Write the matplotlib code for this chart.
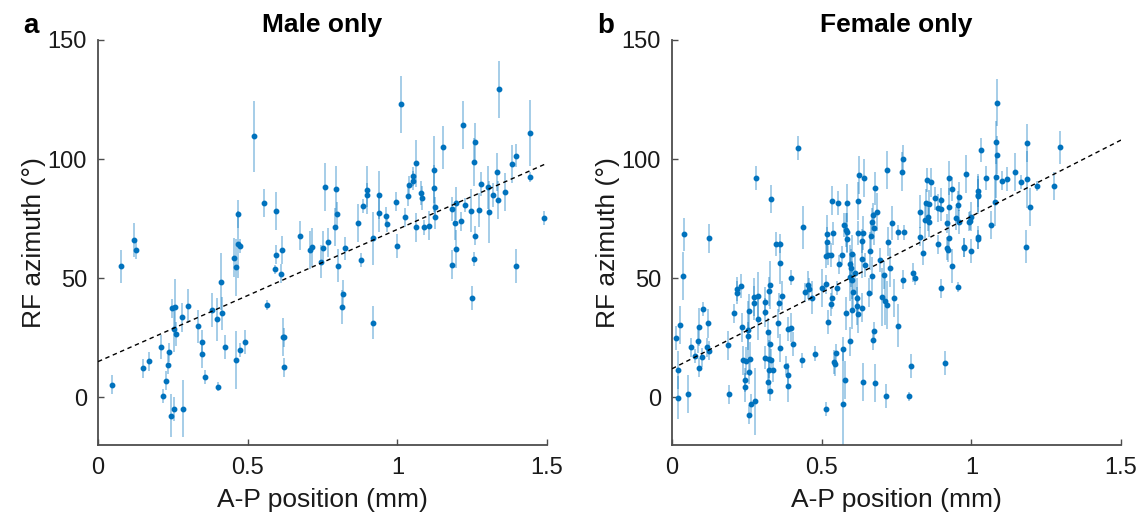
import matplotlib
matplotlib.use("Agg")
import matplotlib.pyplot as plt
import numpy as np

# ---------------- data ----------------
male_x = [0.048, 0.076, 0.121, 0.127, 0.149, 0.169, 0.21, 0.236, 0.235, 0.227,
          0.218, 0.245, 0.254, 0.285, 0.246, 0.256, 0.254, 0.261, 0.281, 0.301,
          0.333, 0.349, 0.346, 0.356, 0.382, 0.398, 0.414, 0.411, 0.401, 0.423,
          0.46, 0.473, 0.49, 0.455, 0.462, 0.467, 0.473, 0.565, 0.59, 0.595,
          0.612, 0.616, 0.619, 0.622, 0.622, 0.709, 0.716, 0.745, 0.751, 0.522,
          0.555, 0.594, 0.467, 0.674, 0.76, 0.796, 0.797, 0.791, 0.767, 0.9,
          0.9, 0.884, 0.94, 0.94, 0.869, 0.962, 0.965, 0.919, 0.995, 1.025,
          1.061, 1.09, 1.106, 1.183, 1.193, 1.196, 1.213, 1.227, 1.247, 1.272,
          1.258, 1.28, 1.302, 1.305, 1.321, 1.333, 1.337, 1.359, 1.491, 0.998,
          1.197, 0.824, 0.803, 0.819, 0.815, 0.878, 0.918, 1.184, 1.248, 1.255,
          1.397, 1.012, 1.339, 1.22, 1.258, 1.442, 1.153, 1.256, 1.396, 1.383,
          1.442, 1.062, 1.052, 1.052, 1.038, 1.035, 1.079, 1.084, 1.122, 1.122,
          1.126, 1.125]
male_y = [5.3, 55, 66, 62, 12.3, 15.1, 21.3, 18.9, 13.7, 6.9,
          0.5, -7.7, -4.9, -4.7, 37.4, 37.8, 28.9, 26.6, 33.6, 38.4,
          29.8, 23.1, 18.2, 8.4, 36.7, 32.8, 35.3, 48.6, 4.5, 21.1,
          15.7, 19.9, 23.1, 58.7, 54.6, 64.2, 63.6, 38.8, 53.7, 59.8,
          51.8, 61.9, 25.2, 25.2, 12.7, 61.8, 63, 56.9, 62.9, 109.5,
          81.5, 78.2, 76.9, 67.9, 88.4, 87.3, 77, 71.6, 65.1, 87.1,
          85, 80.4, 85, 77.4, 73.1, 76, 72.6, 66.7, 82.1, 75.5,
          71.3, 71.3, 72.1, 78.9, 73, 81.4, 74, 80.8, 78.3, 78.6,
          67.9, 89.5, 88.1, 77.9, 85, 94.5, 82.8, 86.3, 75.2, 63.6,
          62.1, 62.5, 55.3, 43.4, 37.9, 57.7, 31.4, 55.7, 41.7, 58,
          55.2, 123, 129.3, 114.3, 107.3, 111, 105, 98.9, 101.5, 97.8,
          92.6, 98.2, 92.9, 91, 89.1, 84.5, 85.7, 83.7, 95.5, 87.7,
          80, 75.5]
male_err = [4, 7, 7, 4, 4, 4, 5, 4, 4, 4,
            3, 9, 5, 12, 4, 12, 10, 5, 6, 7,
            7, 5, 6, 3, 7, 9, 7, 12, 2, 5,
            12, 3, 5, 8, 12, 14, 3, 2, 2, 4,
            4, 6, 8, 4, 4, 8, 8, 7, 7, 15,
            6, 8, 6, 6, 10, 10, 5, 8, 6, 10,
            5, 3, 10, 8, 8, 4, 3, 11, 4, 4,
            6, 3, 6, 5, 7, 7, 4, 3, 9, 7,
            4, 5, 9, 13, 5, 8, 8, 8, 3, 5,
            8, 5, 7, 6, 7, 3, 7, 6, 5, 3,
            7, 12, 12, 10, 8, 14, 9, 10, 5, 8,
            2, 10, 4, 4, 4, 4, 5, 5, 14, 10,
            4, 5]

female_x = [0.039, 0.123, 0.281, 0.331, 0.421, 0.438, 0.346, 0.36, 0.517, 0.517,
            0.719, 0.772, 0.769, 0.624, 0.642, 0.678, 0.534, 0.554, 0.586, 0.62,
            0.67, 0.686, 0.676, 0.669, 0.576, 0.582, 0.585, 0.585, 0.539, 0.621,
            0.637, 0.634, 0.665, 0.735, 0.754, 0.775, 0.722, 0.828, 0.83, 0.848,
            0.851, 0.864, 0.844, 0.856, 0.859, 0.859, 0.88, 0.888, 0.898, 0.898,
            0.926, 0.936, 0.926, 0.92, 0.949, 0.956, 0.959, 0.959, 0.981, 0.991,
            0.997, 1.023, 1.023, 0.926, 0.89, 0.976, 0.919, 1.085, 1.083, 1.085,
            1.084, 1.033, 1.05, 1.104, 1.119, 1.146, 1.165, 1.185, 1.187, 1.196,
            1.218, 1.277, 1.295, 1.184, 1.022, 1.021, 1.078, 1.066, 0.999, 1.023,
            0.999, 0.037, 0.026, 0.012, 0.021, 0.02, 0.054, 0.064, 0.076, 0.087,
            0.09, 0.089, 0.1, 0.102, 0.117, 0.121, 0.125, 0.186, 0.191, 0.208,
            0.217, 0.216, 0.229, 0.233, 0.238, 0.247, 0.243, 0.243, 0.254, 0.256,
            0.254, 0.261, 0.256, 0.264, 0.257, 0.276, 0.273, 0.275, 0.288, 0.287,
            0.312, 0.31, 0.324, 0.328, 0.322, 0.31, 0.327, 0.323, 0.332, 0.338,
            0.323, 0.321, 0.327, 0.356, 0.362, 0.368, 0.354, 0.362, 0.38, 0.389,
            0.389, 0.388, 0.397, 0.403, 0.397, 0.433, 0.443, 0.453, 0.458, 0.469,
            0.477, 0.502, 0.521, 0.515, 0.516, 0.521, 0.531, 0.515, 0.534, 0.53,
            0.552, 0.558, 0.567, 0.581, 0.596, 0.57, 0.549, 0.54, 0.544, 0.577,
            0.57, 0.596, 0.597, 0.601, 0.594, 0.603, 0.612, 0.601, 0.606, 0.617,
            0.617, 0.622, 0.635, 0.634, 0.645, 0.657, 0.663, 0.668, 0.639, 0.678,
            0.671, 0.676, 0.694, 0.707, 0.702, 0.711, 0.717, 0.728, 0.741, 0.754,
            0.714, 0.772, 0.806, 0.811, 0.8, 0.793, 0.839, 0.898, 0.913, 0.922,
            0.934, 0.957, 0.976]
female_y = [68.4, 66.8, 92.1, 83.2, 104.8, 71.3, 64.4, 64.4, 68.5, 65.3,
            95.4, 100, 94.8, 93.3, 91.9, 87.7, 82.6, 81.6, 81.6, 82.6,
            76.5, 77.9, 70.9, 73.4, 72.3, 70.2, 69.2, 66.4, 68.8, 69,
            69, 65.5, 67.9, 73.2, 69.2, 69.2, 65.3, 67.5, 77.9, 81.5,
            91.2, 90.3, 74.4, 75.8, 73.4, 81, 83.5, 79.5, 79.1, 82.8,
            92.1, 87.3, 80, 73, 75.1, 80.7, 84.3, 73.7, 93.7, 73.7,
            74.2, 84.9, 66.3, 66.8, 64.2, 63, 62.5, 123.7, 107, 101.8,
            92.7, 103.7, 92.1, 91, 91.6, 94.5, 90.5, 106.9, 91.6, 80,
            88.7, 88.7, 105, 63.2, 86.7, 84.7, 82.1, 72.4, 75.9, 67.1,
            61.5, 51, 30.5, 24.9, 11.3, -0.1, 1.5, 21.1, 17.4, 23.5,
            29.5, 12.5, 16.9, 37.1, 21.1, 31, 19.5, 21.8, 1.3, 35.2,
            45.5, 44, 46.8, 29.4, 15.5, 15.3, 7.4, 4.2, 28.4, 36.3,
            25.8, 16.1, 10.6, -2.8, -7.3, -1.6, 42.3, 39.6, 42.7, 32.9,
            40.2, 35.7, 44.5, 47.1, 27.4, 16.7, 22.3, 16, 15.5, 11.6,
            11.3, 6.6, 2.6, 39.8, 56.6, 42.7, 31, 20.7, 13.3, 9.4,
            4.9, 28.7, 29.3, 22.4, 50.3, 15.5, 44.1, 47.1, 45.3, 41.9,
            18.4, 45.9, 31.6, -5, 59.4, 59.7, 59.7, 47.5, 41.9, 39,
            45.9, 55.9, 59.7, 35.3, 23.5, 20.3, 18.5, 14.8, 13.9, 7.3,
            -2.7, 56, 54.2, 60.1, 50.5, 49.4, 52, 36.6, 44.3, 41.9,
            38.4, 34.9, 37.7, 58, 55.5, 44, 61.3, 51.1, 6.4, 6,
            23.9, 27.7, 57.6, 51.3, 42.1, 40.5, 38.7, 54.5, 41.7, 30,
            0.4, 49.4, 52.4, 50.1, 13.3, 0.4, 60.5, 45.7, 14.4, 61.8,
            55.2, 46.3, 62.9]
female_err = [7, 6, 5, 6, 5, 9, 5, 4, 8, 6,
              8, 6, 8, 8, 8, 7, 6, 5, 8, 8,
              5, 8, 7, 6, 5, 7, 8, 6, 5, 5,
              7, 5, 6, 7, 3, 3, 6, 4, 7, 6,
              5, 6, 8, 6, 6, 6, 5, 6, 5, 5,
              7, 5, 8, 4, 5, 6, 6, 5, 8, 4,
              4, 8, 4, 5, 4, 4, 5, 10, 9, 8,
              9, 5, 5, 4, 5, 8, 3, 8, 12, 8,
              2, 6, 7, 7, 7, 7, 10, 6, 6, 5,
              5, 10, 8, 5, 8, 9, 8, 4, 3, 5,
              8, 4, 4, 3, 4, 6, 4, 6, 4, 4,
              5, 5, 5, 6, 6, 6, 5, 6, 12, 7,
              6, 7, 5, 4, 4, 14, 8, 7, 10, 9,
              6, 6, 6, 10, 6, 5, 6, 8, 5, 5,
              5, 5, 4, 4, 9, 6, 6, 6, 4, 5,
              7, 5, 6, 5, 3, 3, 4, 6, 5, 7,
              3, 8, 5, 3, 5, 4, 5, 4, 5, 5,
              3, 4, 4, 7, 6, 5, 4, 5, 5, 8,
              22, 8, 8, 8, 10, 8, 8, 8, 8, 8,
              8, 8, 6, 8, 5, 6, 8, 8, 8, 8,
              4, 4, 5, 6, 12, 10, 10, 8, 8, 9,
              5, 4, 4, 3, 5, 2, 5, 4, 5, 5,
              7, 2, 4]

# regression lines: (intercept, slope)
male_fit = (15.0, 55.5)
female_fit = (12.0, 64.0)

panel_letters = ["a", "b"]
titles = ["Male only", "Female only"]
xticks = [0, 0.5, 1, 1.5]
xticklabels = ["0", "0.5", "1", "1.5"]
yticks = [0, 50, 100, 150]
yticklabels = ["0", "50", "100", "150"]

# ---------------- plotting ----------------
plt.rcParams['font.family'] = ['Liberation Sans', 'DejaVu Sans']

W, H = 1144, 521
fig = plt.figure(figsize=(W / 100, H / 100), dpi=100)

blue = '#0072BD'
ebar_col = (0.0, 0.447, 0.741, 0.45)
spine_col = '#4d4d4d'

lefts = [98, 672]
ax_w = 449
top, bottom = 40, 445

datasets = [(male_x, male_y, male_err, male_fit),
            (female_x, female_y, female_err, female_fit)]

for i, (xs, ys, es, fit) in enumerate(datasets):
    ax = fig.add_axes([lefts[i] / W, 1 - bottom / H, ax_w / W, (bottom - top) / H])
    ax.errorbar(xs, ys, yerr=es, fmt='o', ms=3.2, color=blue, mec=blue,
                ecolor=ebar_col, elinewidth=1.1, capsize=0, zorder=2)
    xl = np.array([0.0, 1.5])
    ax.plot(xl, fit[0] + fit[1] * xl, color='black', lw=1.0,
            linestyle=(0, (3.2, 2.6)), zorder=3)
    ax.set_xlim(0, 1.5)
    ax.set_ylim(-20, 150)
    ax.set_xticks(xticks)
    ax.set_xticklabels(xticklabels)
    ax.set_yticks(yticks)
    ax.set_yticklabels(yticklabels)
    for s in ['top', 'right']:
        ax.spines[s].set_visible(False)
    for s in ['left', 'bottom']:
        ax.spines[s].set_color(spine_col)
        ax.spines[s].set_linewidth(1.3)
    ax.tick_params(direction='in', length=4, width=1.0, color=spine_col,
                   labelsize=17, labelcolor='#1a1a1a')
    ax.tick_params(axis='x', pad=9)
    ax.tick_params(axis='y', pad=8)
    ax.set_xlabel("A-P position (mm)", fontsize=19, color='#1a1a1a', labelpad=6)
    ax.set_ylabel("RF azimuth (°)", fontsize=19, color='#1a1a1a', labelpad=1)
    ax.set_title(titles[i], fontsize=19, fontweight='bold', pad=6)
    fig.text((lefts[i] - 75) / W, 1 - 26 / H, panel_letters[i], fontsize=20,
             fontweight='bold', ha='left', va='center')

fig.savefig("out.png", dpi=100)
